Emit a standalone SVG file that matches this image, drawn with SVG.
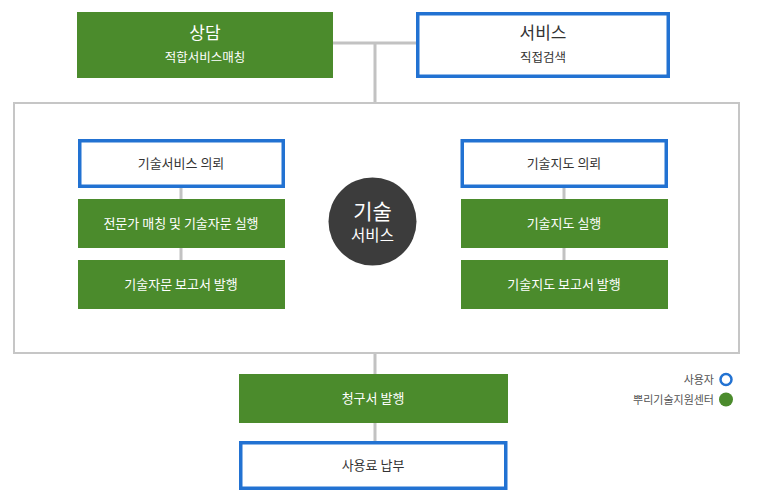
<svg xmlns="http://www.w3.org/2000/svg" width="757" height="500" viewBox="0 0 757 500">
<style>
text{font-family:"Noto Sans CJK KR","Noto Sans",sans-serif;text-anchor:middle}
.g{fill:#4b8b2c}
.b{fill:#fff;stroke:#2272d2;stroke-width:3.5}
.w{fill:#fff}
.d{fill:#333}
.ln{stroke:#c2c2c2;stroke-width:3;fill:none}
.s{font-size:13px}
</style>
<rect width="757" height="500" fill="#fff"/>
<g id="connectors">
<path class="ln" d="M333 43H416M375 43V103M181 187V199M181 248V260M564 187V199M564 248V260M375 353V374M375 423V441"/>
</g>
<g id="frame"><rect x="14" y="103" width="725" height="250" fill="none" stroke="#c6c6c6" stroke-width="2"/></g>
<g id="n-sangdam"><rect class="g" x="77" y="12" width="256" height="66"/><text class="w" x="205" y="39" font-size="17">상담</text><text class="w" x="205" y="62" font-size="12.5">적합서비스매칭</text></g>
<g id="n-service"><rect class="b" x="417.75" y="13.75" width="250.5" height="62.5"/><text class="d" x="543" y="39" font-size="17">서비스</text><text class="d" x="543" y="62" font-size="12.5">직접검색</text></g>
<g id="n-l1"><rect class="b" x="79.75" y="140.75" width="203.5" height="45.5"/><text class="d s" x="181" y="168">기술서비스 의뢰</text></g>
<g id="n-l2"><rect class="g" x="78" y="199" width="207" height="49"/><text class="w s" x="181" y="228">전문가 매칭 및 기술자문 실행</text></g>
<g id="n-l3"><rect class="g" x="78" y="260" width="207" height="49"/><text class="w s" x="181" y="289">기술자문 보고서 발행</text></g>
<g id="n-center"><circle cx="372.5" cy="221.5" r="44" fill="#3c3c3c"/><text class="w" x="372.5" y="219" font-size="21">기술</text><text class="w" x="372.5" y="241" font-size="15.5">서비스</text></g>
<g id="n-r1"><rect class="b" x="462.25" y="140.75" width="204" height="45.5"/><text class="d s" x="564" y="168">기술지도 의뢰</text></g>
<g id="n-r2"><rect class="g" x="461" y="199" width="207" height="49"/><text class="w s" x="564" y="228">기술지도 실행</text></g>
<g id="n-r3"><rect class="g" x="461" y="260" width="207" height="49"/><text class="w s" x="564" y="289">기술지도 보고서 발행</text></g>
<g id="n-bill"><rect class="g" x="239" y="374" width="269" height="49"/><text class="w s" x="373" y="403">청구서 발행</text></g>
<g id="n-pay"><rect class="b" x="240.75" y="442.75" width="265" height="45.5"/><text class="d s" x="373" y="470">사용료 납부</text></g>
<g id="legend">
<circle cx="726" cy="379.5" r="5.5" fill="#fff" stroke="#2272d2" stroke-width="2.5"/>
<circle cx="726" cy="399.5" r="7" fill="#4b8b2c"/>
<text x="714" y="384" font-size="11" fill="#555" style="text-anchor:end">사용자</text>
<text x="714" y="404" font-size="11" fill="#555" style="text-anchor:end">뿌리기술지원센터</text>
</g>
</svg>
